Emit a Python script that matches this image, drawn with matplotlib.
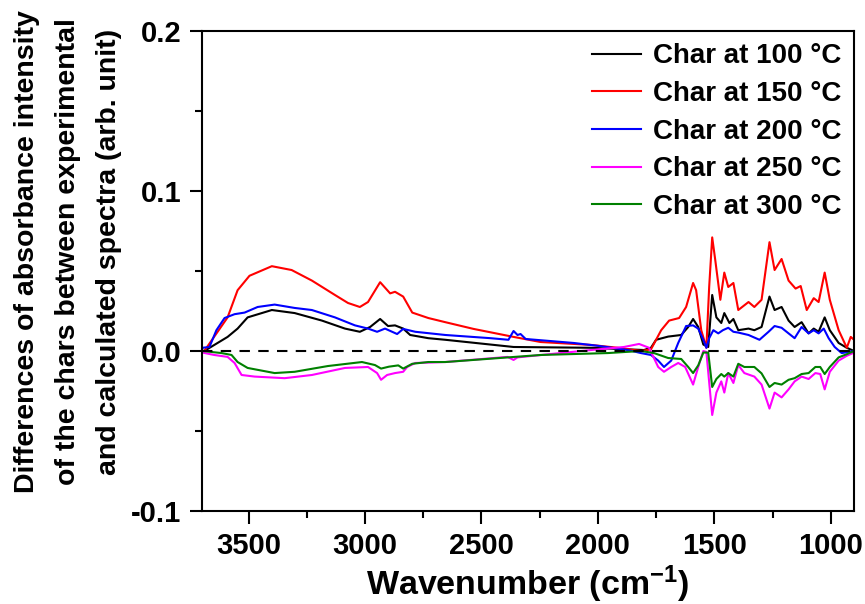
import matplotlib
matplotlib.use("Agg")
import matplotlib.pyplot as plt
from matplotlib.ticker import MultipleLocator, FormatStrFormatter

plt.rcParams['font.family'] = ['Liberation Sans', 'DejaVu Sans']
plt.rcParams['font.weight'] = 'bold'
plt.rcParams['axes.unicode_minus'] = False
plt.rcParams['mathtext.fontset'] = 'custom'
plt.rcParams['mathtext.rm'] = 'Liberation Sans:bold'
plt.rcParams['mathtext.bf'] = 'Liberation Sans:bold'
plt.rcParams['mathtext.default'] = 'bf'

# Wavenumber (cm-1) / difference pairs for each char
wn_100 = [3700, 3690, 3590, 3547, 3504, 3400, 3302, 3185, 3086, 3022, 2978, 2935, 2901, 2871,
          2836, 2806, 2728, 2655, 2362, 2030, 1802, 1772, 1750, 1698, 1642, 1612, 1591, 1569,
          1547, 1526, 1509, 1491, 1470, 1457, 1435, 1418, 1397, 1353, 1328, 1297, 1263, 1241,
          1211, 1181, 1155, 1125, 1095, 1073, 1052, 1026, 1004, 966, 931, 900]
d_100 = [0.0, 0.0, 0.0088, 0.014, 0.021, 0.0256, 0.0237, 0.019, 0.014, 0.012, 0.015, 0.020,
         0.0156, 0.016, 0.014, 0.010, 0.008, 0.007, 0.0025, 0.002, 0.0006, 0.002, 0.007, 0.009,
         0.010, 0.015, 0.020, 0.015, 0.004, 0.0025, 0.035, 0.021, 0.0175, 0.0237, 0.0175, 0.020,
         0.013, 0.014, 0.013, 0.015, 0.034, 0.0256, 0.0275, 0.019, 0.015, 0.018, 0.011, 0.014,
         0.012, 0.021, 0.013, 0.005, 0.002, 0.0]

wn_150 = [3700, 3690, 3590, 3547, 3496, 3400, 3315, 3228, 3129, 3073, 3022, 2987, 2935, 2892,
          2871, 2836, 2797, 2728, 2655, 2534, 2362, 2246, 2030, 1914, 1815, 1772, 1728, 1694,
          1651, 1621, 1591, 1578, 1556, 1534, 1522, 1509, 1496, 1474, 1457, 1440, 1418, 1397,
          1353, 1328, 1297, 1263, 1241, 1211, 1181, 1151, 1129, 1103, 1073, 1052, 1026, 1004,
          966, 931, 914, 900]
d_150 = [0.0, 0.0, 0.021, 0.038, 0.047, 0.053, 0.0506, 0.044, 0.035, 0.030, 0.0275, 0.0306,
         0.043, 0.036, 0.037, 0.034, 0.024, 0.0206, 0.018, 0.0138, 0.0088, 0.0056, 0.0038, 0.002,
         0.0, 0.001, 0.013, 0.019, 0.0206, 0.0275, 0.0425, 0.038, 0.013, 0.002, 0.040, 0.071,
         0.057, 0.032, 0.049, 0.040, 0.0425, 0.0256, 0.0306, 0.0275, 0.032, 0.068, 0.0506,
         0.0575, 0.044, 0.039, 0.0406, 0.0256, 0.033, 0.0306, 0.049, 0.032, 0.013, 0.002,
         0.0088, 0.007]

wn_200 = [3700, 3698, 3668, 3638, 3603, 3560, 3517, 3461, 3388, 3302, 3228, 3129, 3043, 2987,
          2948, 2914, 2862, 2836, 2784, 2655, 2461, 2384, 2362, 2345, 2332, 2310, 2103, 1987,
          1871, 1815, 1772, 1741, 1716, 1685, 1655, 1621, 1591, 1569, 1547, 1534, 1522, 1504,
          1483, 1463, 1440, 1418, 1397, 1353, 1306, 1267, 1241, 1211, 1181, 1155, 1125, 1095,
          1073, 1052, 1030, 1009, 983, 953, 918, 900]
d_200 = [0.0, 0.002, 0.0025, 0.013, 0.0206, 0.023, 0.024, 0.0275, 0.029, 0.0269, 0.0256, 0.021,
         0.016, 0.014, 0.012, 0.014, 0.0106, 0.0138, 0.012, 0.010, 0.008, 0.007, 0.0125, 0.010,
         0.0106, 0.0075, 0.005, 0.003, 0.0006, -0.0013, -0.0025, -0.006, -0.010, -0.006, 0.005,
         0.0156, 0.016, 0.014, 0.007, 0.002, 0.008, 0.013, 0.011, 0.013, 0.0145, 0.012, 0.0115,
         0.010, 0.007, 0.012, 0.0156, 0.0145, 0.011, 0.008, 0.015, 0.011, 0.013, 0.011, 0.014,
         0.008, 0.0025, -0.0013, -0.0005, 0.0]

wn_250 = [3700, 3698, 3647, 3590, 3560, 3530, 3474, 3345, 3228, 3086, 2987, 2948, 2931, 2905,
          2871, 2836, 2819, 2784, 2655, 2388, 2362, 2345, 2030, 1888, 1823, 1780, 1741, 1716,
          1685, 1655, 1625, 1591, 1569, 1547, 1534, 1509, 1491, 1470, 1457, 1440, 1418, 1397,
          1371, 1328, 1297, 1263, 1241, 1211, 1181, 1155, 1125, 1095, 1066, 1045, 1026, 1004,
          966, 931, 900]
d_250 = [0.0, -0.001, -0.0025, -0.0037, -0.0075, -0.015, -0.016, -0.017, -0.015, -0.0106,
         -0.010, -0.0138, -0.018, -0.015, -0.0138, -0.013, -0.010, -0.0075, -0.0069, -0.0037,
         -0.0056, -0.004, 0.0006, 0.0025, 0.0044, 0.002, -0.010, -0.013, -0.010, -0.0075,
         -0.010, -0.021, -0.010, 0.0, -0.0006, -0.040, -0.026, -0.019, -0.026, -0.0138, -0.020,
         -0.0088, -0.0138, -0.016, -0.021, -0.036, -0.026, -0.029, -0.024, -0.019, -0.016,
         -0.0175, -0.0138, -0.0144, -0.024, -0.013, -0.006, -0.003, -0.001]

wn_300 = [3700, 3698, 3616, 3573, 3547, 3504, 3388, 3302, 3159, 3013, 2957, 2931, 2897, 2857,
          2836, 2797, 2728, 2655, 2246, 1957, 1815, 1759, 1698, 1642, 1612, 1591, 1569, 1547,
          1526, 1509, 1491, 1470, 1457, 1440, 1418, 1397, 1371, 1328, 1297, 1263, 1241, 1211,
          1181, 1155, 1125, 1095, 1066, 1045, 1026, 1004, 966, 931, 900]
d_300 = [0.0, 0.0, -0.0013, -0.0025, -0.0069, -0.0106, -0.0138, -0.013, -0.0094, -0.0069,
         -0.0088, -0.011, -0.0098, -0.009, -0.011, -0.008, -0.0069, -0.0069, -0.0025, -0.0013,
         0.0, -0.0013, -0.0044, -0.005, -0.010, -0.0138, -0.009, -0.001, -0.001, -0.0225,
         -0.0175, -0.0144, -0.016, -0.0138, -0.016, -0.008, -0.010, -0.010, -0.014, -0.0225,
         -0.020, -0.021, -0.018, -0.017, -0.0144, -0.0138, -0.010, -0.010, -0.0144, -0.010,
         -0.004, -0.002, 0.0]

series = [
    ("Char at 100 \u00b0C", wn_100, d_100, "#000000"),
    ("Char at 150 \u00b0C", wn_150, d_150, "#ff0000"),
    ("Char at 200 \u00b0C", wn_200, d_200, "#0000ff"),
    ("Char at 250 \u00b0C", wn_250, d_250, "#ff00ff"),
    ("Char at 300 \u00b0C", wn_300, d_300, "#008000"),
]

fig = plt.figure(figsize=(8.65, 6.04), dpi=100)
ax = fig.add_axes([0.2335, 0.154, 0.7538, 0.7947])

for label, wn, d, color in series:
    ax.plot(wn, d, color=color, lw=1.5, label=label)

# zero baseline
ax.plot([3700, 900], [0, 0], color="black", lw=1.5, ls=(0, (5, 4)))

ax.set_xlim(3700, 900)
ax.set_ylim(-0.1, 0.2)
ax.xaxis.set_major_locator(MultipleLocator(500))
ax.xaxis.set_minor_locator(MultipleLocator(250))
ax.yaxis.set_major_locator(MultipleLocator(0.1))
ax.yaxis.set_minor_locator(MultipleLocator(0.05))
ax.yaxis.set_major_formatter(FormatStrFormatter('%.1f'))

for s in ax.spines.values():
    s.set_linewidth(1.5)
ax.tick_params(which='both', direction='out', width=1.5, top=False, right=False)
ax.tick_params(which='major', length=9, labelsize=21, pad=6)
ax.tick_params(which='minor', length=5)
for t in ax.get_xticklabels() + ax.get_yticklabels():
    t.set_fontweight('bold')

# axis titles
fig.text(528 / 865, 1 - 595 / 604, "Wavenumber (cm$^{-1}$)", fontsize=24.5,
         fontweight='bold', ha='center', va='baseline')
fig.text(68 / 865, 1 - 252 / 604,
         "Differences of absorbance intensity\nof the chars between experimental\n"
         "and calculated spectra (arb. unit)", fontsize=20.5, fontweight='bold',
         rotation=90, ha='center', va='center', multialignment='center', linespacing=1.75)

leg = ax.legend(loc='upper right', frameon=False, fontsize=20, handlelength=1.75,
                handletextpad=0.45, labelspacing=0.42, borderaxespad=0.0,
                borderpad=0.45)
for t in leg.get_texts():
    t.set_fontweight('bold')

fig.savefig("out.png", dpi=100)
